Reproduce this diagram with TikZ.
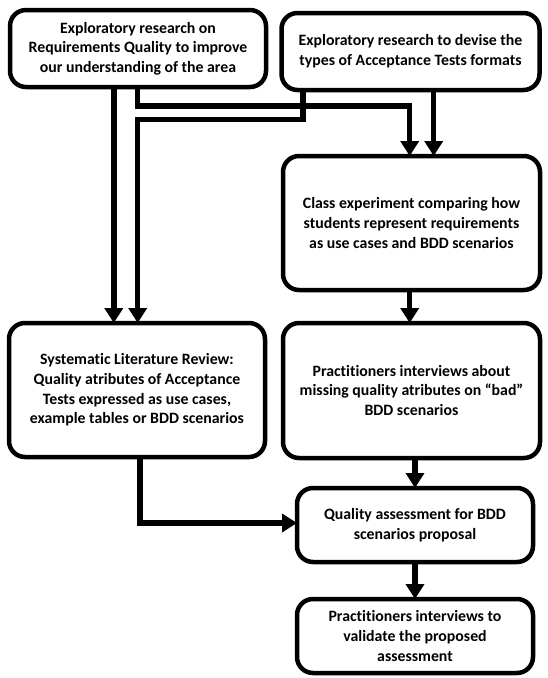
\documentclass[tikz,border=0pt]{standalone}
\usepackage{fontspec}
\setmainfont{Carlito}[Ligatures=NoCommon]
\usetikzlibrary{arrows.meta}
\begin{document}
\begin{tikzpicture}[x=1pt,y=-1pt,
  box/.style={draw=black,line width=4.5pt,rounded corners=16pt,align=center,
    font=\fontsize{15.8}{19.7}\selectfont\bfseries,inner sep=0pt,outer sep=0pt},
  arr/.style={line width=5.5pt,-{Triangle[width=18pt,length=15pt]}},
  ln/.style={line width=5.5pt}]
\useasboundingbox (0,0) rectangle (547,678);
\node[box,minimum width=256pt,minimum height=77pt] (b1) at (138,48.5)
  {Exploratory research on\\Requirements Quality to improve\\our understanding of the area};
\node[box,minimum width=258pt,minimum height=77pt] (b2) at (410.5,51.5)
  {Exploratory research to devise the\\types of Acceptance Tests formats};
\node[box,minimum width=257pt,minimum height=134pt] (cls) at (411.5,223)
  {Class experiment comparing how\\students represent requirements\\as use cases and BDD scenarios};
\node[box,minimum width=256pt,minimum height=134pt] (slr) at (137,390)
  {Systematic Literature Review:\\Quality atributes of Acceptance\\Tests expressed as use cases,\\example tables or BDD scenarios};
\node[box,minimum width=257pt,minimum height=135pt] (prac) at (411.5,390.5)
  {Practitioners interviews about\\missing quality atributes on “bad”\\BDD scenarios};
\node[box,minimum width=236pt,minimum height=74pt] (qa) at (415,525)
  {Quality assessment for BDD\\scenarios proposal};
\node[box,minimum width=236pt,minimum height=74pt] (fin) at (415,636)
  {Practitioners interviews to\\validate the proposed\\assessment};
\coordinate (xa) at (113.8,0);
\coordinate (xb) at (137.7,0);
\coordinate (xc) at (303,0);
\coordinate (xd) at (409.7,0);
\coordinate (xe) at (433.7,0);
\coordinate (xf) at (140,0);
\coordinate (xg) at (415,0);
\coordinate (ya) at (0,106);
\coordinate (yb) at (0,119.7);
\coordinate (yc) at (0,523);
\draw[arr] (b1.south -| xa) -- (slr.north -| xa);
\draw[arr] (b1.south -| xb) -- (xb |- ya) -- (xd |- ya) -- (cls.north -| xd);
\draw[arr] (b2.south -| xc) -- (xc |- yb) -- (xb |- yb) -- (slr.north -| xb);
\draw[arr] (b2.south -| xe) -- (cls.north -| xe);
\draw[arr] (cls.south -| xd) -- (prac.north -| xd);
\draw[arr] (slr.south -| xf) -- (xf |- yc) -- (qa.west |- yc);
\draw[arr] (prac.south -| xg) -- (qa.north -| xg);
\draw[arr] (qa.south) -- (fin.north);
\end{tikzpicture}
\end{document}
